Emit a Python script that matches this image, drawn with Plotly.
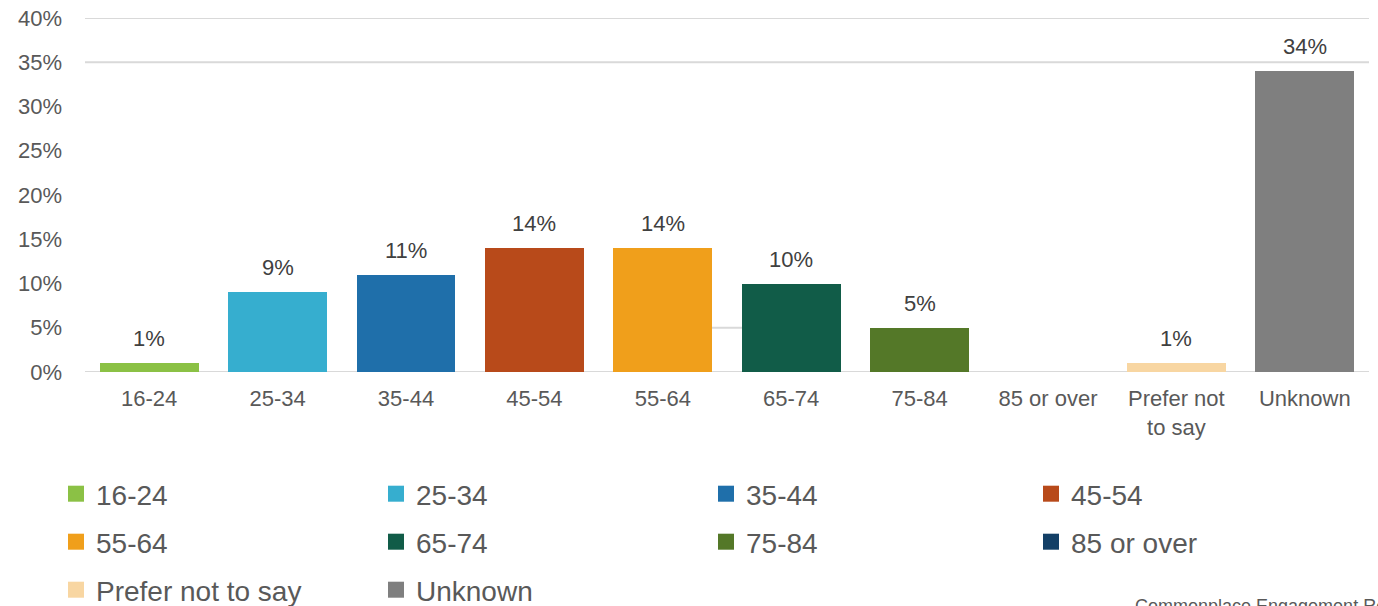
import plotly.graph_objects as go

categories = ["16-24", "25-34", "35-44", "45-54", "55-64", "65-74", "75-84",
              "85 or over", "Prefer not to say", "Unknown"]
tick_labels = ["16-24", "25-34", "35-44", "45-54", "55-64", "65-74", "75-84",
               "85 or over", "Prefer not<br>to say", "Unknown"]
values = [1, 9, 11, 14, 14, 10, 5, 0, 1, 34]
colors = ["#8BC145", "#36AECF", "#1F6FAA", "#B84A1A", "#F09F1B", "#115C48",
          "#547828", "#133F66", "#F8D6A2", "#7F7F7F"]
y_ticks = [0, 5, 10, 15, 20, 25, 30, 35, 40]

# legend grid: 4 columns x 3 rows (pixel positions of legend boxes)
col_x = [56, 376, 706, 1031]
row_y = [494, 542, 590]

fig = go.Figure()
legends = {}
for i, (cat, val, col) in enumerate(zip(categories, values, colors)):
    key = "legend" if i == 0 else f"legend{i + 1}"
    fig.add_trace(go.Bar(
        x=[cat], y=[val], name=cat, marker_color=col, marker_line_width=0,
        showlegend=False,
    ))
    # legend swatch (larger square than the default bar swatch)
    fig.add_trace(go.Scatter(
        x=[None], y=[None], name=cat, mode="markers", legend=key,
        marker=dict(symbol="square", size=16, color=col, line_width=0),
    ))
    legends[key] = dict(
        orientation="h", xref="container", yref="container",
        x=col_x[i % 4] / 1378, y=1 - row_y[i // 4] / 606,
        xanchor="left", yanchor="middle", itemsizing="trace",
        font=dict(size=28, color="#595959", family="Liberation Sans, Arial"),
        bgcolor="rgba(0,0,0,0)",
    )
    if val > 0:
        fig.add_annotation(
            x=cat, y=val, text=f"{val}%", showarrow=False,
            xanchor="center", yanchor="bottom", yshift=10,
            font=dict(size=22, color="#404040", family="Liberation Sans, Arial"),
        )

fig.update_layout(
    width=1378, height=606,
    margin=dict(l=85, r=9, t=18, b=234, autoexpand=False),
    barmode="stack", bargap=0.23,
    plot_bgcolor="white", paper_bgcolor="white",
    font=dict(family="Liberation Sans, Arial", color="#595959"),
    showlegend=True,
    **legends,
)
fig.update_xaxes(
    categoryorder="array", categoryarray=categories,
    tickmode="array", tickvals=categories, ticktext=tick_labels,
    tickfont=dict(size=22, color="#595959"),
    showgrid=False, showline=False, ticks="", ticklabelstandoff=11,
    automargin=False,
)
fig.update_yaxes(
    range=[0, 40], tickmode="array", tickvals=y_ticks,
    ticktext=[f"{v}%" for v in y_ticks],
    tickfont=dict(size=22, color="#595959"),
    showgrid=False, zeroline=False, showline=False, ticks="",
    ticklabelstandoff=22, automargin=False,
)
for yv in [0, 35, 40]:
    fig.add_shape(type="line", xref="paper", yref="y", x0=0, x1=1, y0=yv, y1=yv,
                  line=dict(color="#D9D9D9", width=2), layer="below")
fig.add_shape(type="line", xref="x", yref="y", x0=4.38, x1=4.62, y0=5, y1=5,
              line=dict(color="#D9D9D9", width=2), layer="below")

fig.add_annotation(
    text="Commonplace Engagement Report", xref="paper", yref="paper",
    x=(1133 - 85) / 1284, y=0, xanchor="left", yanchor="top",
    yshift=-222, showarrow=False,
    font=dict(size=18, color="#595959"),
)

fig.write_html("out.html", config={"displayModeBar": False},
               post_script="document.body.style.margin='0';")
